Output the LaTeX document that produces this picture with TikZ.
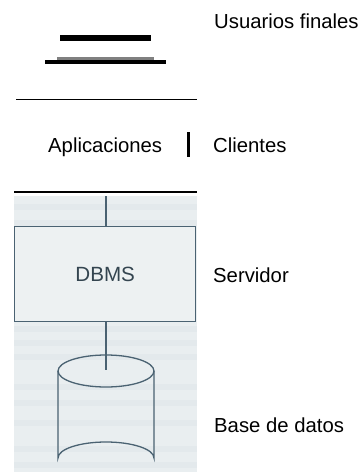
\documentclass[tikz,border=0pt]{standalone}
\usepackage{fontspec}
\setmainfont{Liberation Sans}
\definecolor{scan}{HTML}{E9EEF0}
\definecolor{scandark}{HTML}{E3E9EC}
\definecolor{boxfill}{HTML}{EDF1F2}
\definecolor{ink}{HTML}{4A6272}
\tikzset{
  lbl/.style={font=\fontsize{20.3}{22}\selectfont,text=black,inner sep=0pt,anchor=base west},
  ink line/.style={draw=ink,line width=1.3pt},
  bar/.style={fill=black,draw=none},
}
\begin{document}
\begin{tikzpicture}[x=1pt,y=-1pt]
\useasboundingbox (0,0) rectangle (361,472);
\clip (0,0) rectangle (361,472);
% scanned background
\fill[scan] (14,196) rectangle (197,472);
\foreach \yy in {204,220,326,340,354,384,400,420,446,462}
  \fill[scandark] (14,\yy) rectangle (197,\yy+6);
% user bars
\fill[bar] (60,35) rectangle (151,41);
\fill[gray] (57,57) rectangle (154,59.5);
\fill[bar] (45,59.5) rectangle (166,64);
\draw[line width=0.8pt] (16,99) -- (197,99);
\fill[bar] (187,132) rectangle (190,157);
\draw[line width=1.4pt] (14,192) -- (197,192);
% labels
\node[lbl] (users) at (214,28) {Usuarios finales};
\node[lbl] (apps) at (48,152) {Aplicaciones};
\node[lbl] (clients) at (213,152) {Clientes};
\node[lbl] (server) at (213,282) {Servidor};
\node[lbl] (base) at (214,432) {Base de datos};
% dbms
\node[ink line,fill=boxfill,minimum width=181pt,minimum height=95pt,inner sep=0pt,
  font=\fontsize{20.6}{22}\selectfont,text=ink!70!black] (dbms) at (105.2,274.2) {DBMS};
\coordinate (top) at (106,196);
\coordinate (dbin) at (106,370);
\draw[ink line] (top) -- (dbms.north -| top);
% cylinder
\draw[ink line] (58,371) -- (58,458) arc[x radius=48,y radius=16,start angle=180,end angle=360] -- (154,371);
\draw[ink line] (106,371) ellipse[x radius=48,y radius=16];
\draw[ink line] (dbms.south -| dbin) -- (dbin);
\end{tikzpicture}
\end{document}
